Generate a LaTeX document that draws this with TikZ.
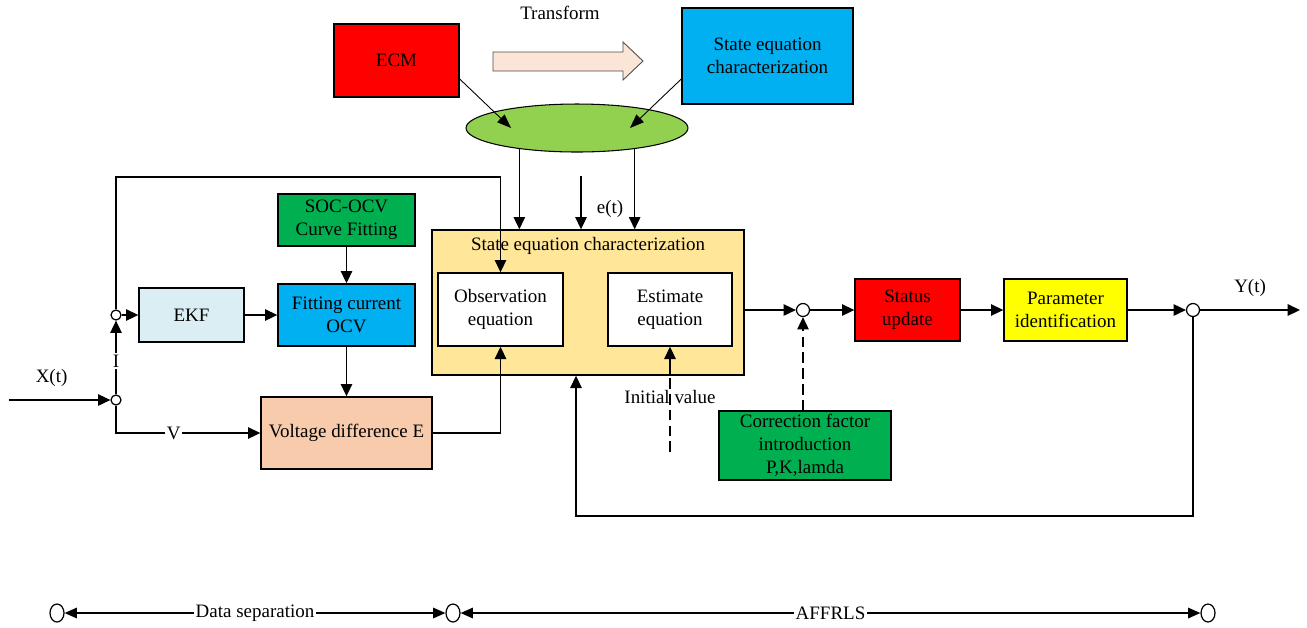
\documentclass[tikz,border=0pt]{standalone}
\usepackage{fontspec}
\setmainfont{Liberation Serif}
\usetikzlibrary{arrows.meta,shapes.geometric}
\definecolor{ecmred}{HTML}{FF0000}
\definecolor{secblue}{HTML}{00B0F0}
\definecolor{ellgreen}{HTML}{92D050}
\definecolor{stateyellow}{HTML}{FFE699}
\definecolor{paramyellow}{HTML}{FFFF00}
\definecolor{socgreen}{HTML}{00B050}
\definecolor{ekfblue}{HTML}{DAEEF3}
\definecolor{vpeach}{HTML}{F8CBAD}
\definecolor{arrowpeach}{HTML}{FBE5D6}
\begin{document}
\begin{tikzpicture}[x=0.02cm,y=-0.02cm]
	\tikzset{every node/.style={font=\fontsize{10.8}{13}\selectfont, align=center},
		box/.style={draw=black, line width=0.8pt, inner sep=2pt},
		arr/.style={line width=0.8pt, -{Triangle[length=7pt,width=6.5pt]}},
		thinarr/.style={line width=0.5pt, -{Triangle[length=8pt,width=6pt]}},
		dblarr/.style={line width=0.8pt, {Triangle[length=7pt,width=6pt]}-{Triangle[length=7pt,width=6pt]}},
		joint/.style={circle, draw=black, fill=white, line width=0.7pt, minimum size=0.2cm, inner sep=0pt},
		stopoval/.style={ellipse, draw=black, fill=white, line width=0.7pt, minimum width=0.28cm, minimum height=0.36cm, inner sep=0pt}
	}
	\useasboundingbox (0,0) rectangle (1307,627);
	% transform part
	\node (ecm) at (396.5,60.5) [box, fill=ecmred, minimum width=2.5cm, minimum height=1.46cm] {ECM};
	\node (sectop) at (767.5,56) [box, fill=secblue, minimum width=3.42cm, minimum height=1.92cm] {State equation\\characterization};
	\node (ell) at (577,128) [ellipse, draw=black, line width=0.6pt, fill=ellgreen, minimum width=4.44cm, minimum height=0.96cm] {};
	\node (trf) at (560,13) {Transform};
	\draw[line width=0.5pt, draw=black!70, fill=arrowpeach] (493,52) -- (623,52) -- (623,42) -- (643,61) -- (623,80) -- (623,71) -- (493,71) -- cycle;
	\draw[thinarr] ([yshift=-0.37cm]ecm.east) -- ([xshift=-1.32cm]ell.center);
	\draw[thinarr] ([yshift=-0.46cm]sectop.west) -- ([xshift=1.06cm]ell.center);

	% state equation block
	\node (state) at (588,302.5) [box, fill=stateyellow, minimum width=6.24cm, minimum height=2.9cm] {};
	\node (stitle) at (588,246) {State equation characterization};
	\node (obs) at (500.5,309.5) [box, fill=white, minimum width=2.5cm, minimum height=1.46cm] {Observation\\equation};
	\node (est) at (670,309.5) [box, fill=white, minimum width=2.48cm, minimum height=1.46cm] {Estimate\\equation};
	\coordinate (etin) at (581,176);
	\draw[arr] (ell.200) -- (ell.200 |- state.north);
	\draw[arr] (etin) -- (etin |- state.north);
	\draw[arr] (ell.340) -- (ell.340 |- state.north);
	\node (etlabel) at (610,209) {e(t)};

	% input side
	\node (ekf) at (191.5,315) [box, fill=ekfblue, minimum width=2.1cm, minimum height=1.08cm] {EKF};
	\node (fit) at (346.5,315) [box, fill=secblue, minimum width=2.74cm, minimum height=1.24cm] {Fitting current\\OCV};
	\node (soc) at (346.5,220) [box, fill=socgreen, minimum width=2.74cm, minimum height=1.04cm] {SOC-OCV\\Curve Fitting};
	\node (vdiff) at (346.5,433) [box, fill=vpeach, minimum width=3.42cm, minimum height=1.44cm] {Voltage difference E};
	\node (ji) at (116,315) [joint] {};
	\node (jx) at (116,400) [joint] {};
	\coordinate (xin) at (9,400);
	\draw[arr] (xin) -- node[pos=0.42, above=4pt] {X(t)} (jx);
	\draw[arr] (jx) -- node[pos=0.45, fill=white, inner sep=1pt] {I} (ji);
	\draw[arr] (jx) |- node[pos=0.7, fill=white, inner sep=1pt] {V} (vdiff);
	\draw[arr] (ji) -- (ekf);
	\draw[arr] (ekf) -- (fit);
	\draw[arr] (soc) -- (fit);
	\draw[arr] (fit) -- (vdiff);
	\draw[arr] (ji) -- ++(0,-138) -| (obs);
	\draw[arr] (vdiff) -| (obs);

	% output side
	\node (sum) at (803,310) [joint, minimum size=0.26cm] {};
	\node (status) at (907.5,310) [box, fill=ecmred, minimum width=2.1cm, minimum height=1.24cm] {Status\\update};
	\node (param) at (1065.5,310) [box, fill=paramyellow, minimum width=2.46cm, minimum height=1.24cm] {Parameter\\identification};
	\node (out) at (1193,310) [joint, minimum size=0.26cm] {};
	\coordinate (yout) at (1300,310);
	\node (corr) at (805,445.5) [box, fill=socgreen, minimum width=3.44cm, minimum height=1.34cm] {Correction factor\\introduction\\P,K,lamda};
	\draw[arr] (state.east |- sum) -- (sum);
	\draw[arr] (sum) -- (status);
	\draw[arr] (status) -- (param);
	\draw[arr] (param) -- (out);
	\draw[arr] (out) -- node[above=4pt] {Y(t)} (yout);
	\draw[arr, dash pattern=on 6pt off 3pt] (sum |- corr.north) -- (sum);
	\draw[arr] (out) -- ++(0,206) -| ([xshift=-0.24cm]state.south);

	% initial value
	\coordinate (initfree) at (670,452);
	\draw[line width=0.8pt, dash pattern=on 6pt off 3pt] (initfree) -- (est |- state.south);
	\draw[arr] (est |- state.south) -- (est);
	\node (init) at (670,397) {Initial value};

	% stages
	\node (b1) at (57,613) [stopoval] {};
	\node (b2) at (453,613) [stopoval] {};
	\node (b3) at (1208,613) [stopoval] {};
	\draw[dblarr] (b1) -- node[fill=white, inner sep=1pt] {Data separation} (b2);
	\draw[dblarr] (b2) -- node[fill=white, inner sep=1pt] {AFFRLS} (b3);
\end{tikzpicture}
\end{document}
